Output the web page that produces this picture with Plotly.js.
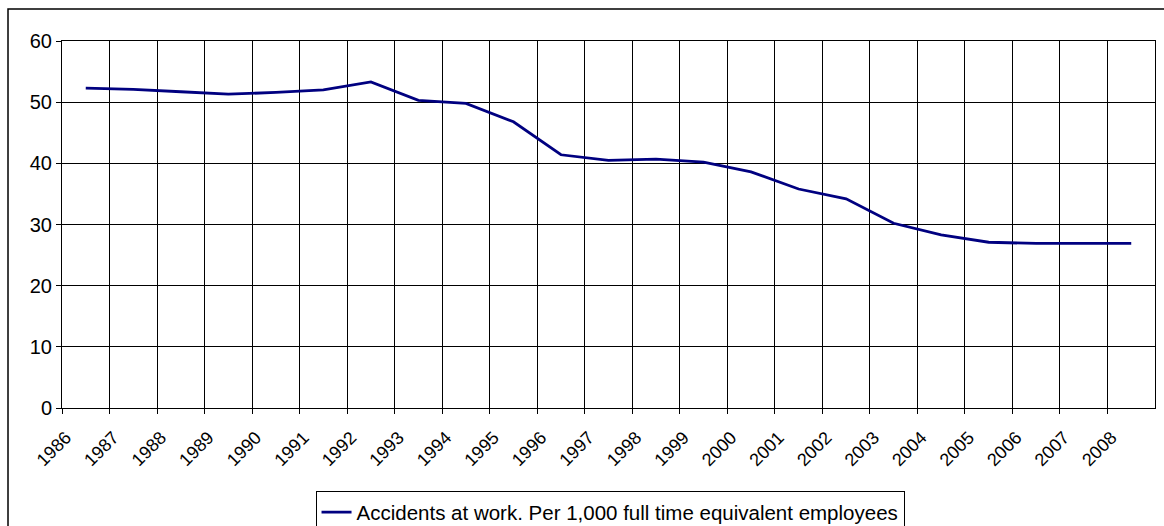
<!DOCTYPE html>
<html>
<head>
<meta charset="utf-8">
<script src="https://cdn.plot.ly/plotly-3.0.1.min.js"></script>
<style>
html,body{margin:0;padding:0;background:#fff;}
#chart{width:1164px;height:526px;}
</style>
</head>
<body>
<div id="chart"></div>
<script>
const years = [1986,1987,1988,1989,1990,1991,1992,1993,1994,1995,1996,1997,1998,1999,2000,2001,2002,2003,2004,2005,2006,2007,2008];
const accidents = [52.3,52.1,51.7,51.3,51.6,52.0,53.3,50.3,49.8,46.8,41.4,40.5,40.7,40.2,38.6,35.8,34.2,30.2,28.3,27.1,26.9,26.9,26.9];
const tickLabels = years.map(String);
const seriesName = "Accidents at work. Per 1,000 full time equivalent employees";

const FONT = "Liberation Sans, Arial, sans-serif";

const trace = {
  x: years.map(y => y + 0.5),
  y: accidents,
  type: "scatter",
  mode: "lines",
  name: seriesName,
  line: {color: "#000080", width: 2.8},
  showlegend: true
};

const layout = {
  width: 1164,
  height: 526,
  margin: {l: 62, r: 9, t: 41, b: 118},
  paper_bgcolor: "#fff",
  plot_bgcolor: "#fff",
  font: {family: FONT, size: 19, color: "#000"},
  xaxis: {
    type: "linear",
    range: [years[0], years[years.length - 1] + 1],
    tickmode: "array",
    tickvals: years,
    ticktext: tickLabels,
    tickangle: -45,
    ticks: "outside",
    ticklen: 5,
    tickwidth: 1,
    tickcolor: "#000",
    ticklabelstandoff: 6,
    ticklabelshift: 4,
    showgrid: true,
    gridcolor: "#000",
    gridwidth: 1,
    showline: true,
    mirror: true,
    linecolor: "#000",
    linewidth: 1,
    zeroline: false,
    automargin: false,
    tickfont: {family: FONT, size: 18, color: "#000"},
    fixedrange: true
  },
  yaxis: {
    range: [0, 60],
    tickmode: "linear",
    tick0: 0,
    dtick: 10,
    ticks: "outside",
    ticklen: 5,
    tickwidth: 1,
    tickcolor: "#000",
    showgrid: true,
    gridcolor: "#000",
    gridwidth: 1,
    showline: true,
    mirror: true,
    linecolor: "#000",
    linewidth: 1,
    zeroline: false,
    automargin: false,
    tickfont: {family: FONT, size: 20, color: "#000"},
    fixedrange: true
  },
  showlegend: true,
  legend: {
    orientation: "h",
    xref: "paper",
    x: 0.5014,
    xanchor: "center",
    yref: "container",
    y: 0.066,
    yanchor: "top",
    bordercolor: "#000",
    borderwidth: 1,
    bgcolor: "#fff",
    font: {family: FONT, size: 20.5, color: "#000"},
    itemwidth: 30,
    tracegroupgap: 0
  },
  shapes: [{
    type: "rect",
    xref: "paper", yref: "paper",
    x0: -0.0494, x1: 1.05,
    y0: -0.4, y1: 1.0872,
    line: {color: "#000", width: 1.5},
    fillcolor: "rgba(0,0,0,0)",
    layer: "below"
  }]
};

Plotly.newPlot("chart", [trace], layout, {displayModeBar: false, staticPlot: true});
</script>
</body>
</html>
